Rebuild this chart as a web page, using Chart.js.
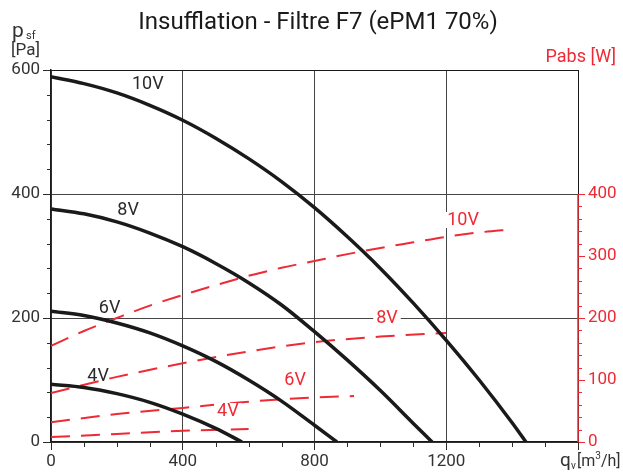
<!DOCTYPE html>
<html>
<head>
<meta charset="utf-8">
<script src="https://cdn.jsdelivr.net/npm/chart.js@4/dist/chart.umd.min.js"></script>
<style>
html, body { margin: 0; padding: 0; background: #fff; }
</style>
</head>
<body>
<canvas id="chart" width="623" height="475"></canvas>
<script>
// pressure curves p_sf [Pa] against flow q_v [m3/h]
const q10V = [0, 100, 200, 300, 400, 500, 600, 700, 800, 900, 1000, 1100, 1200, 1300, 1400, 1442];
const p10V = [589, 578, 563, 543, 519, 490, 457, 420, 378, 331, 280, 224, 164, 100, 31, 0];
const q8V = [0, 100, 200, 300, 400, 500, 600, 700, 800, 900, 1000, 1100, 1157];
const p8V = [376, 368, 355, 337, 315, 288, 257, 221, 178, 132, 83, 30, 0];
const q6V = [0, 100, 200, 300, 400, 500, 600, 700, 800, 868];
const p6V = [211, 204, 192, 176, 155, 130, 100, 66, 27, 0];
const q4V = [0, 100, 200, 300, 400, 500, 580];
const p4V = [93, 88, 78, 64, 45, 22, 0];

// absorbed power Pabs [W]
const qW10V = [0, 100, 200, 300, 400, 500, 600, 700, 800, 900, 1000, 1100, 1200, 1300, 1400];
const w10V = [155, 179, 200, 220, 237, 253, 268, 281, 292, 303, 313, 322, 331, 338, 343];
const qW8V = [0, 200, 400, 600, 800, 1000, 1200];
const w8V = [79, 105, 127, 146, 161, 170, 176];
const qW6V = [0, 200, 400, 600, 800, 920];
const w6V = [32, 45, 55, 65, 72, 74];
const qW4V = [0, 200, 400, 600];
const w4V = [8, 13, 18, 21];

const xTicks = [0, 400, 800, 1200];
const yTicks = [0, 200, 400, 600];
const y1Ticks = [0, 100, 200, 300, 400];

// curve labels: [text, q, value]
const blackLabels = [['10V', 294, 577], ['8V', 234, 374], ['6V', 178, 216], ['4V', 143, 106]];
const redLabels = [['10V', 1251, 358], ['8V', 1020, 200], ['6V', 741, 100], ['4V', 537, 50]];

const RED = '#ee2a35';
const DARK = '#2b2b2b';
const FONT = 'Roboto, "DejaVu Sans", sans-serif';

function pts(xs, ys) {
    return xs.map((v, i) => ({ x: v, y: ys[i] }));
}

let pressure = function (label, xs, ys) {
    return { label: label, data: pts(xs, ys), yAxisID: 'y', borderColor: '#1a1a1a', borderWidth: 3.5,
        pointRadius: 0, cubicInterpolationMode: 'monotone', fill: false, order: 1 };
};
let power = function (label, xs, ys) {
    return { label: label, data: pts(xs, ys), yAxisID: 'y1', borderColor: RED, borderWidth: 2,
        borderDash: [19, 11], pointRadius: 0, cubicInterpolationMode: 'monotone', fill: false, order: 2 };
};

let overlay = {
    id: 'overlay',
    afterDraw: function (chart) {
        const ctx = chart.ctx;
        const x = chart.scales.x, y = chart.scales.y, y1 = chart.scales.y1;
        const area = chart.chartArea;
        ctx.save();

        // minor ticks
        ctx.lineWidth = 1;
        ctx.strokeStyle = DARK;
        ctx.beginPath();
        for (let v = 100; v < 1600; v += 100) {
            if (v % 400 === 0) continue;
            const px = Math.round(x.getPixelForValue(v)) + 0.5;
            ctx.moveTo(px, area.bottom); ctx.lineTo(px, area.bottom + 5);
        }
        for (let v = 40; v < 600; v += 40) {
            if (v % 200 === 0) continue;
            const py = Math.round(y.getPixelForValue(v)) + 0.5;
            ctx.moveTo(area.left - 4, py); ctx.lineTo(area.left, py);
        }
        ctx.stroke();

        ctx.strokeStyle = RED;
        ctx.beginPath();
        for (let v = 20; v < 400; v += 20) {
            if (v % 100 === 0) continue;
            const py = Math.round(y1.getPixelForValue(v)) + 0.5;
            ctx.moveTo(area.right, py); ctx.lineTo(area.right + 4, py);
        }
        ctx.stroke();

        // red right axis line 0..400
        ctx.lineWidth = 1.5;
        ctx.beginPath();
        ctx.moveTo(area.right, y1.getPixelForValue(0));
        ctx.lineTo(area.right, y1.getPixelForValue(400));
        ctx.stroke();

        // curve labels
        ctx.font = '18px ' + FONT;
        ctx.textAlign = 'center';
        ctx.textBaseline = 'middle';
        blackLabels.forEach(function (l) {
            ctx.fillStyle = DARK;
            ctx.fillText(l[0], x.getPixelForValue(l[1]), y.getPixelForValue(l[2]));
        });
        redLabels.forEach(function (l) {
            const px = x.getPixelForValue(l[1]), py = y1.getPixelForValue(l[2]);
            const w = ctx.measureText(l[0]).width;
            ctx.fillStyle = '#fff';
            ctx.fillRect(px - w / 2 - 3, py - 8, w + 6, 16);
            ctx.fillStyle = RED;
            ctx.fillText(l[0], px, py);
        });

        // title
        ctx.fillStyle = '#1a1a1a';
        ctx.font = '24px ' + FONT;
        ctx.fillText('Insufflation - Filtre F7 (ePM1 70%)', 318, 23);

        // axis titles
        ctx.textAlign = 'left';
        ctx.textBaseline = 'alphabetic';
        ctx.fillStyle = '#333';
        ctx.font = '21px ' + FONT;
        ctx.fillText('p', 12, 37);
        ctx.font = '11px ' + FONT;
        ctx.fillText('sf', 26, 39);
        ctx.font = '17px ' + FONT;
        ctx.fillText('[Pa]', 11, 55);

        ctx.fillStyle = RED;
        ctx.font = '18px ' + FONT;
        ctx.textAlign = 'right';
        ctx.fillText('Pabs [W]', 616, 62);

        ctx.fillStyle = '#333';
        ctx.textAlign = 'left';
        ctx.font = '19px ' + FONT;
        ctx.fillText('q', 560, 466);
        ctx.font = '10px ' + FONT;
        ctx.fillText('v', 571, 469);
        ctx.font = '16px ' + FONT;
        ctx.fillText('[m', 577, 466);
        let cx = 577 + ctx.measureText('[m').width;
        ctx.font = '10px ' + FONT;
        ctx.fillText('3', cx, 459);
        cx += ctx.measureText('3').width;
        ctx.font = '16px ' + FONT;
        ctx.fillText('/h]', cx, 466);

        ctx.restore();
    }
};

new Chart(document.getElementById('chart').getContext('2d'), {
    type: 'line',
    data: {
        datasets: [
            power('Pabs 10V', qW10V, w10V),
            power('Pabs 8V', qW8V, w8V),
            power('Pabs 6V', qW6V, w6V),
            power('Pabs 4V', qW4V, w4V),
            pressure('10V', q10V, p10V),
            pressure('8V', q8V, p8V),
            pressure('6V', q6V, p6V),
            pressure('4V', q4V, p4V)
        ]
    },
    options: {
        responsive: false,
        animation: false,
        layout: { padding: { top: 70, left: 0, right: 0, bottom: 0 } },
        plugins: { legend: { display: false }, tooltip: { enabled: false }, title: { display: false } },
        scales: {
            x: {
                type: 'linear', min: 0, max: 1600,
                afterBuildTicks: function (s) { s.ticks = xTicks.concat([1600]).map(v => ({ value: v })); },
                afterFit: function (s) { s.height = 33; },
                ticks: {
                    color: '#333', font: { family: FONT, size: 17 }, padding: 2, maxRotation: 0,
                    callback: function (v) { return v === 1600 ? '' : v; }
                },
                grid: {
                    tickLength: 8, lineWidth: 1, tickColor: DARK,
                    color: function (c) { return c.tick && c.tick.value === 1600 ? '#1a1a1a' : '#444'; }
                },
                border: { color: '#1a1a1a', width: 1.5 }
            },
            y: {
                position: 'left', min: 0, max: 600,
                afterBuildTicks: function (s) { s.ticks = yTicks.map(v => ({ value: v })); },
                afterFit: function (s) { s.width = 51; },
                ticks: { color: '#333', font: { family: FONT, size: 17 }, padding: 3 },
                grid: {
                    tickLength: 8, lineWidth: 1, tickColor: DARK,
                    color: function (c) { return c.tick && c.tick.value === 600 ? '#1a1a1a' : '#444'; }
                },
                border: { color: '#1a1a1a', width: 1.5 }
            },
            y1: {
                position: 'right', min: 0, max: 600,
                afterBuildTicks: function (s) { s.ticks = y1Ticks.map(v => ({ value: v })); },
                afterFit: function (s) { s.width = 45; },
                ticks: { color: RED, font: { family: FONT, size: 17 }, padding: 3 },
                grid: { drawOnChartArea: false, tickLength: 7, tickColor: RED },
                border: { display: false }
            }
        }
    },
    plugins: [overlay]
});
</script>
</body>
</html>
